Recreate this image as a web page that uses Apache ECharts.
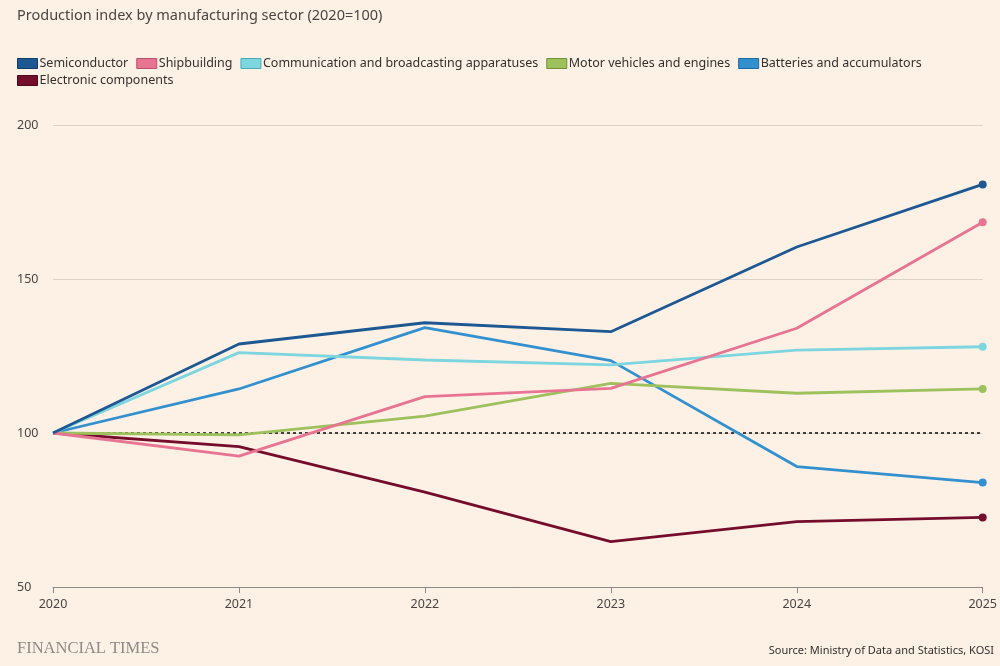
<!DOCTYPE html>
<html>
<head>
<meta charset="utf-8">
<script src="https://cdn.jsdelivr.net/npm/echarts@6/dist/echarts.min.js"></script>
<style>
html,body{margin:0;padding:0;background:#fdf1e6;}
#chart{width:1000px;height:666px;}
</style>
</head>
<body>
<div id="chart"></div>
<script>
const years = ['2020','2021','2022','2023','2024','2025'];
const semiconductor = [100, 128.9, 135.8, 132.9, 160.4, 180.7];
const shipbuilding = [100, 92.5, 111.8, 114.5, 134.0, 168.4];
const communication = [100, 126.1, 123.7, 122.1, 126.9, 128.0];
const motorVehicles = [100, 99.4, 105.5, 116.1, 112.9, 114.3];
const batteries = [100, 114.3, 134.2, 123.5, 89.1, 83.9];
const electronic = [100, 95.6, 80.8, 64.7, 71.2, 72.6];
const yTicks = [50, 100, 150, 200];

const seriesDefs = [
  {name:'Semiconductor', data:semiconductor, color:'#1d5893', border:'#123d68'},
  {name:'Shipbuilding', data:shipbuilding, color:'#e87493', border:'#b8506c'},
  {name:'Communication and broadcasting apparatuses', data:communication, color:'#7dd6df', border:'#4fa9b2'},
  {name:'Motor vehicles and engines', data:motorVehicles, color:'#9dc15c', border:'#6f9233'},
  {name:'Batteries and accumulators', data:batteries, color:'#3390cf', border:'#1f6aa0'},
  {name:'Electronic components', data:electronic, color:'#740d2c', border:'#4e071c'}
];

const chart = echarts.init(document.getElementById('chart'));
const series = seriesDefs.map((s, i) => ({
  name: s.name,
  type: 'line',
  data: s.data,
  lineStyle: {width: 2.8, color: s.color},
  itemStyle: {color: s.color, borderColor: s.color, borderWidth: 0},
  symbol: (v, p) => p.dataIndex === s.data.length - 1 ? 'circle' : 'none',
  symbolSize: 8,
  showAllSymbol: true,
  z: 10 - i,
  animation: false,
  markLine: i === 0 ? {
    silent: true,
    symbol: 'none',
    label: {show: false},
    lineStyle: {color: '#1a1817', type: [3, 3], width: 1.6},
    data: [{yAxis: 100}],
    z: 1
  } : undefined
}));

chart.setOption({
  backgroundColor: '#fdf1e6',
  animation: false,
  title: {
    text: 'Production index by manufacturing sector (2020=100)',
    left: 17, top: 8, padding: 0,
    textStyle: {fontFamily: 'Noto Sans', fontSize: 14.5, fontWeight: 'normal', color: '#4a4542'}
  },
  legend: {
    left: 17, top: 57, width: 930,
    itemWidth: 20, itemHeight: 10, itemGap: 4,
    icon: 'rect',
    data: seriesDefs.map((s) => ({name: s.name, itemStyle: {color: s.color, borderColor: s.border, borderWidth: 1}})),
    textStyle: {fontFamily: 'Noto Sans', fontSize: 12.5, color: '#33302e', padding: [0, 4, 0, -3], lineHeight: 10},
    padding: 0
  },
  grid: {left: 53, right: 16, top: 125, bottom: 79, containLabel: false},
  xAxis: {
    type: 'category',
    data: years,
    boundaryGap: false,
    axisLine: {lineStyle: {color: '#8f8a86', width: 1}},
    axisTick: {show: true, length: 6, lineStyle: {color: '#8f8a86'}},
    axisLabel: {fontFamily: 'Noto Sans', fontSize: 12.5, color: '#4a4542', margin: 11, showMinLabel: true, showMaxLabel: true},
    splitLine: {show: false}
  },
  yAxis: {
    type: 'value',
    min: 50, max: 200, interval: 50,
    axisLine: {show: false},
    axisTick: {show: false},
    axisLabel: {
      fontFamily: 'Noto Sans', fontSize: 12.5, color: '#4a4542',
      align: 'left', margin: 36,
      formatter: (v) => yTicks.includes(v) ? String(v) : ''
    },
    splitLine: {lineStyle: {color: '#dcd2c8', width: 1}}
  },
  graphic: [
    {type: 'text', left: 17, top: 640, style: {text: 'FINANCIAL TIMES', fontFamily: 'Liberation Serif', fontSize: 16.5, fill: '#8f8a85'}},
    {type: 'text', right: 6, top: 645, style: {text: 'Source: Ministry of Data and Statistics, KOSI', fontFamily: 'Noto Sans', fontSize: 11, fill: '#33302e'}}
  ],
  series: series
});
</script>
</body>
</html>
